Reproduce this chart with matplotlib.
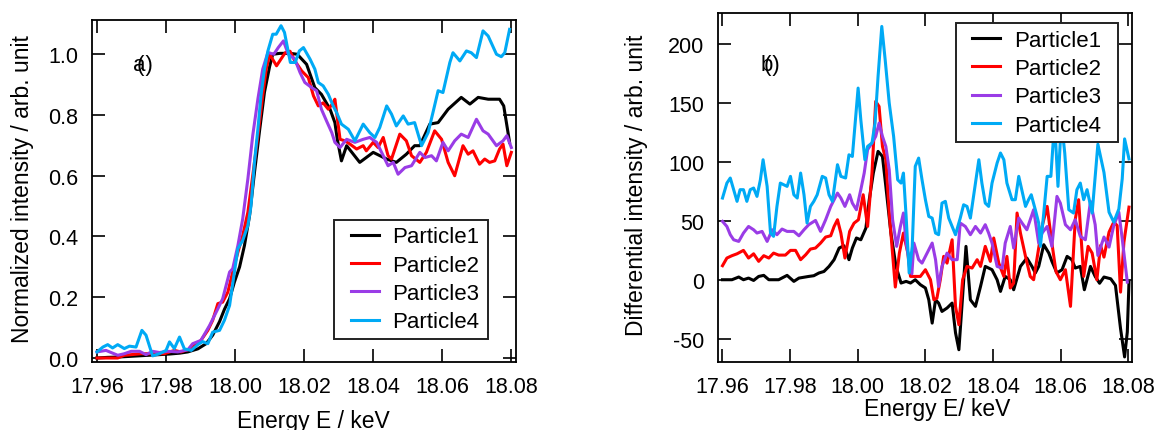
import matplotlib
matplotlib.use("Agg")
import matplotlib.pyplot as plt
from matplotlib.patches import Rectangle
from matplotlib.transforms import offset_copy

plt.rcParams['font.family'] = ['Liberation Sans', 'DejaVu Sans']
plt.rcParams['axes.unicode_minus'] = False

# ---------------- data: panel a) normalized XANES ----------------
a_e1 = [17.9600, 17.9630, 17.9660, 17.9690, 17.9720, 17.9750, 17.9780, 17.9810, 17.9840,
        17.9863, 17.9892, 17.9916, 17.9935, 17.9955, 17.9969, 17.9984, 17.9998, 18.0013,
        18.0027, 18.0042, 18.0056, 18.0071, 18.0085, 18.0100, 18.0109, 18.0130, 18.0160,
        18.0180, 18.0207, 18.0231, 18.0250, 18.0275, 18.0289, 18.0296, 18.0308, 18.0323,
        18.0361, 18.0400, 18.0439, 18.0467, 18.0496, 18.0520, 18.0535, 18.0564, 18.0588,
        18.0617, 18.0655, 18.0680, 18.0704, 18.0733, 18.0766, 18.0778, 18.0795]
a_p1 = [0.000, 0.002, 0.003, 0.005, 0.007, 0.009, 0.011, 0.013, 0.016,
        0.020, 0.030, 0.047, 0.075, 0.120, 0.160, 0.195, 0.250, 0.300,
        0.370, 0.470, 0.610, 0.750, 0.875, 0.960, 1.000, 1.003, 1.003,
        1.000, 0.967, 0.890, 0.868, 0.819, 0.775, 0.720, 0.649, 0.699,
        0.644, 0.677, 0.655, 0.644, 0.671, 0.699, 0.699, 0.770, 0.775,
        0.819, 0.858, 0.836, 0.858, 0.852, 0.852, 0.830, 0.710]

a_e2 = [17.9600, 17.9660, 17.9679, 17.9728, 17.9795, 17.9824, 17.9843, 17.9872, 17.9901,
        17.9921, 17.9935, 17.9950, 17.9964, 17.9979, 17.9993, 18.0008, 18.0022, 18.0037,
        18.0051, 18.0066, 18.0080, 18.0090, 18.0100, 18.0120, 18.0145, 18.0159, 18.0173,
        18.0193, 18.0212, 18.0227, 18.0241, 18.0255, 18.0270, 18.0284, 18.0289, 18.0304,
        18.0318, 18.0333, 18.0352, 18.0371, 18.0380, 18.0400, 18.0414, 18.0429, 18.0443,
        18.0453, 18.0477, 18.0496, 18.0511, 18.0535, 18.0554, 18.0578, 18.0598, 18.0617,
        18.0636, 18.0660, 18.0675, 18.0689, 18.0708, 18.0723, 18.0737, 18.0752, 18.0766,
        18.0776, 18.0787, 18.0800]
a_p2 = [0.000, 0.000, 0.009, 0.014, 0.014, 0.025, 0.020, 0.031, 0.058,
        0.091, 0.124, 0.179, 0.184, 0.217, 0.283, 0.348, 0.403, 0.480,
        0.600, 0.732, 0.864, 0.951, 1.000, 0.962, 1.005, 1.010, 0.978,
        0.945, 0.923, 0.863, 0.830, 0.840, 0.819, 0.840, 0.852, 0.720,
        0.715, 0.704, 0.688, 0.699, 0.682, 0.710, 0.693, 0.726, 0.666,
        0.655, 0.737, 0.715, 0.666, 0.644, 0.677, 0.748, 0.720, 0.644,
        0.600, 0.699, 0.671, 0.682, 0.638, 0.655, 0.644, 0.649, 0.688,
        0.704, 0.633, 0.677]

a_e3 = [17.9600, 17.9626, 17.9660, 17.9679, 17.9699, 17.9723, 17.9742, 17.9761, 17.9781,
        17.9805, 17.9834, 17.9863, 17.9877, 17.9901, 17.9926, 17.9950, 17.9964, 17.9984,
        17.9993, 18.0008, 18.0022, 18.0037, 18.0051, 18.0066, 18.0080, 18.0095, 18.0112,
        18.0125, 18.0140, 18.0154, 18.0173, 18.0188, 18.0202, 18.0222, 18.0236, 18.0250,
        18.0265, 18.0280, 18.0289, 18.0304, 18.0323, 18.0347, 18.0371, 18.0390, 18.0410,
        18.0429, 18.0443, 18.0458, 18.0472, 18.0492, 18.0511, 18.0535, 18.0550, 18.0569,
        18.0583, 18.0602, 18.0617, 18.0636, 18.0655, 18.0675, 18.0699, 18.0718, 18.0733,
        18.0757, 18.0776, 18.0787, 18.0800]
a_p3 = [0.020, 0.025, 0.009, 0.014, 0.022, 0.022, 0.011, 0.022, 0.018,
        0.022, 0.020, 0.027, 0.047, 0.058, 0.107, 0.162, 0.195, 0.283,
        0.294, 0.370, 0.458, 0.590, 0.732, 0.853, 0.951, 1.006, 1.000,
        1.022, 1.044, 1.000, 0.984, 0.940, 0.907, 0.890, 0.880, 0.819,
        0.780, 0.742, 0.710, 0.693, 0.720, 0.710, 0.720, 0.726, 0.710,
        0.666, 0.633, 0.644, 0.605, 0.627, 0.633, 0.677, 0.660, 0.666,
        0.649, 0.710, 0.682, 0.715, 0.737, 0.726, 0.786, 0.748, 0.737,
        0.699, 0.715, 0.732, 0.693]

a_e4 = [17.9600, 17.9617, 17.9631, 17.9645, 17.9660, 17.9679, 17.9694, 17.9713, 17.9730,
        17.9742, 17.9761, 17.9781, 17.9800, 17.9810, 17.9824, 17.9839, 17.9853, 17.9873,
        17.9892, 17.9906, 17.9921, 17.9935, 17.9955, 17.9969, 17.9984, 17.9998, 18.0008,
        18.0022, 18.0037, 18.0046, 18.0056, 18.0066, 18.0075, 18.0085, 18.0095, 18.0109,
        18.0119, 18.0133, 18.0143, 18.0160, 18.0174, 18.0186, 18.0198, 18.0217, 18.0231,
        18.0241, 18.0255, 18.0270, 18.0284, 18.0294, 18.0308, 18.0328, 18.0347, 18.0371,
        18.0390, 18.0405, 18.0419, 18.0439, 18.0453, 18.0467, 18.0487, 18.0501, 18.0520,
        18.0540, 18.0559, 18.0573, 18.0588, 18.0602, 18.0622, 18.0631, 18.0651, 18.0670,
        18.0684, 18.0699, 18.0718, 18.0733, 18.0757, 18.0771, 18.0781, 18.0795]
a_p4 = [0.020, 0.036, 0.044, 0.033, 0.044, 0.031, 0.039, 0.036, 0.091,
        0.075, 0.007, 0.014, 0.025, 0.053, 0.031, 0.069, 0.030, 0.025,
        0.044, 0.054, 0.047, 0.085, 0.091, 0.124, 0.173, 0.283, 0.360,
        0.387, 0.436, 0.500, 0.644, 0.754, 0.864, 0.951, 1.011, 1.066,
        1.066, 1.094, 1.072, 0.973, 0.973, 1.011, 1.022, 0.984, 0.951,
        0.907, 0.896, 0.868, 0.830, 0.808, 0.770, 0.753, 0.715, 0.770,
        0.742, 0.726, 0.759, 0.830, 0.803, 0.764, 0.797, 0.770, 0.775,
        0.699, 0.742, 0.808, 0.880, 0.874, 0.973, 1.005, 0.978, 1.011,
        1.005, 0.989, 1.077, 1.060, 1.000, 0.992, 1.005, 1.082]

# ---------------- data: panel b) differential spectra ----------------
b_e1 = [17.9600, 17.9628, 17.9648, 17.9662, 17.9677, 17.9692, 17.9707, 17.9722, 17.9737,
        17.9766, 17.9791, 17.9811, 17.9826, 17.9855, 17.9870, 17.9885, 17.9900, 17.9915,
        17.9930, 17.9945, 17.9959, 17.9974, 17.9984, 17.9996, 18.0009, 18.0024, 18.0034,
        18.0046, 18.0060, 18.0073, 18.0083, 18.0098, 18.0113, 18.0128, 18.0143, 18.0156,
        18.0170, 18.0185, 18.0200, 18.0210, 18.0220, 18.0230, 18.0239, 18.0249, 18.0264,
        18.0279, 18.0289, 18.0299, 18.0310, 18.0320, 18.0333, 18.0348, 18.0363, 18.0377,
        18.0397, 18.0412, 18.0422, 18.0436, 18.0451, 18.0461, 18.0481, 18.0500, 18.0515,
        18.0525, 18.0535, 18.0550, 18.0565, 18.0574, 18.0589, 18.0604, 18.0619, 18.0633,
        18.0643, 18.0658, 18.0670, 18.0688, 18.0702, 18.0715, 18.0728, 18.0748, 18.0762,
        18.0777, 18.0789, 18.0797, 18.0802]
b_p1 = [0.0, 0.0, 2.3, 0.0, 1.4, -0.6, 2.8, 3.7, 0.0,
        0.0, 3.7, -1.4, 1.4, 2.8, 3.4, 5.7, 7.0, 11.3,
        17.0, 26.9, 28.8, 17.0, 26.9, 35.4, 33.9, 43.8, 67.9,
        90.5, 108.9, 104.6, 79.2, 39.6, 11.3, -2.8, -1.4, -2.8,
        0.0, -4.2, -7.0, -17.0, -36.8, -17.0, -19.8, -26.9, -24.0,
        -19.8, -45.0, -59.4, -14.0, 28.3, -17.0, -22.6, -5.7, 11.3,
        8.5, 0.0, -9.9, 2.8, 0.0, -8.5, 11.3, 18.4, 11.3,
        5.7, 11.3, 29.7, 22.6, 15.6, 5.7, 8.5, 19.8, 17.0,
        9.9, 11.3, -8.5, 11.3, 2.8, -3.0, 2.3, 0.8, -4.8,
        -41.5, -65.5, -44.4, -2.0]

b_e2 = [17.9600, 17.9613, 17.9628, 17.9643, 17.9662, 17.9677, 17.9692, 17.9707, 17.9722,
        17.9737, 17.9751, 17.9766, 17.9786, 17.9801, 17.9816, 17.9831, 17.9846, 17.9860,
        17.9875, 17.9890, 17.9905, 17.9920, 17.9930, 17.9940, 17.9950, 17.9962, 17.9976,
        17.9989, 18.0002, 18.0016, 18.0029, 18.0042, 18.0053, 18.0063, 18.0073, 18.0083,
        18.0093, 18.0111, 18.0123, 18.0135, 18.0148,
        18.0156, 18.0170, 18.0185, 18.0200, 18.0215, 18.0225, 18.0234, 18.0244, 18.0254,
        18.0264, 18.0279, 18.0289, 18.0299, 18.0310, 18.0323, 18.0338, 18.0353, 18.0363,
        18.0377, 18.0392, 18.0402, 18.0417, 18.0432, 18.0441, 18.0451, 18.0461, 18.0471,
        18.0481, 18.0496, 18.0510, 18.0520, 18.0535, 18.0545, 18.0560, 18.0574, 18.0586,
        18.0599, 18.0614, 18.0629, 18.0643, 18.0653, 18.0668, 18.0681, 18.0693, 18.0707,
        18.0718, 18.0728, 18.0743, 18.0757, 18.0767, 18.0777, 18.0787, 18.0802]
b_p2 = [11.9, 18.4, 20.4, 22.0, 24.9, 18.4, 22.0, 15.6, 20.4,
        18.4, 22.6, 20.9, 20.9, 24.9, 24.9, 17.0, 21.2, 26.0,
        26.9, 31.1, 36.2, 37.3, 45.2, 50.9, 39.6, 18.4, 41.0,
        48.0, 50.9, 72.1, 45.2, 90.5, 151.3, 147.0, 113.0, 101.8,
        56.6, -6.2, 22.6, 39.6, 22.6,
        2.8, 2.8, 2.8, 8.5, 0.0, -17.0, -15.6, 0.0, 19.8,
        14.1, 33.9, -22.6, -38.2, 0.0, 11.3, 9.9, 17.0, 11.3,
        28.3, 15.6, 35.4, 14.1, 2.8, 19.8, -7.0, -2.8, 56.6,
        39.6, 19.8, 2.8, 0.0, 26.9, 45.2, 62.2, 31.1, 7.0,
        0.0, 8.5, -22.6, 50.9, 67.9, 2.8, 28.3, 22.6, 0.0,
        29.1, 19.2, 40.4, 48.9, 46.0, -10.5, 31.9, 61.6]

b_e3 = [17.9600, 17.9613, 17.9623, 17.9633, 17.9648, 17.9662, 17.9677, 17.9692, 17.9702,
        17.9717, 17.9732, 17.9747, 17.9761, 17.9776, 17.9791, 17.9811, 17.9826, 17.9841,
        17.9855, 17.9875, 17.9890, 17.9905, 17.9920, 17.9940, 17.9950, 17.9962, 17.9976,
        17.9984, 17.9996, 18.0009, 18.0019, 18.0029, 18.0042, 18.0053, 18.0063, 18.0073,
        18.0083, 18.0093, 18.0103, 18.0115, 18.0126, 18.0135, 18.0143, 18.0153, 18.0160,
        18.0166, 18.0180, 18.0190, 18.0205, 18.0220, 18.0230, 18.0239, 18.0249, 18.0264,
        18.0279, 18.0294, 18.0303, 18.0318, 18.0333, 18.0348, 18.0363, 18.0377, 18.0387,
        18.0397, 18.0412, 18.0427, 18.0436, 18.0451, 18.0461, 18.0476, 18.0486, 18.0500,
        18.0520, 18.0535, 18.0545, 18.0560, 18.0574, 18.0589, 18.0599, 18.0614, 18.0629,
        18.0643, 18.0658, 18.0673, 18.0688, 18.0702, 18.0710, 18.0728, 18.0743, 18.0757,
        18.0772, 18.0782, 18.0797]
b_p3 = [49.5, 45.2, 38.2, 33.9, 32.5, 39.6, 45.2, 42.4, 39.6,
        41.0, 32.5, 42.4, 38.2, 43.0, 41.0, 41.0, 37.3, 42.4,
        46.7, 50.3, 41.0, 50.9, 62.2, 73.5, 69.3, 62.2, 72.1,
        65.0, 59.4, 76.4, 90.5, 110.3, 116.0, 121.6, 132.9, 121.6,
        113.1, 93.3, 50.9, 28.3, 45.2, 56.6, 31.1, 15.0, 5.0,
        31.1, 17.0, 14.1, 22.6, 31.1, 17.0, -5.7, 11.3, 22.6,
        17.0, 17.0, 48.1, 45.2, 38.2, 45.2, 39.6, 46.7, 39.6,
        31.1, 11.3, 9.9, 31.1, 45.2, 26.9, 52.3, 48.0, 42.4,
        59.4, 31.1, 39.6, 45.2, 28.3, 70.7, 65.0, 46.7, 42.4,
        50.9, 36.8, 33.9, 66.5, 46.7, 20.6, 36.2, 27.7, 46.0,
        57.3, 34.7, -2.0]

b_e4 = [17.9600, 17.9613, 17.9623, 17.9633, 17.9643, 17.9652, 17.9662, 17.9672, 17.9682,
        17.9692, 17.9702, 17.9712, 17.9720, 17.9732, 17.9742, 17.9751, 17.9761, 17.9771,
        17.9781, 17.9791, 17.9801, 17.9811, 17.9821, 17.9831, 17.9841, 17.9850, 17.9860,
        17.9870, 17.9880, 17.9895, 17.9905, 17.9915, 17.9925, 17.9940, 17.9950, 17.9964,
        17.9974, 17.9984, 18.0001, 18.0009, 18.0021, 18.0029, 18.0042, 18.0051, 18.0060,
        18.0071, 18.0081, 18.0093, 18.0106, 18.0118, 18.0128, 18.0135, 18.0143, 18.0152,
        18.0161, 18.0170, 18.0180, 18.0190, 18.0200, 18.0210, 18.0220, 18.0230, 18.0239,
        18.0249, 18.0259, 18.0269, 18.0279, 18.0289, 18.0303, 18.0313, 18.0323, 18.0333,
        18.0348, 18.0358, 18.0367, 18.0377, 18.0387, 18.0397, 18.0412, 18.0422, 18.0432,
        18.0441, 18.0456, 18.0466, 18.0476, 18.0486, 18.0496, 18.0505, 18.0513, 18.0525,
        18.0535, 18.0540, 18.0550, 18.0560, 18.0571, 18.0582, 18.0592, 18.0602, 18.0612,
        18.0624, 18.0638, 18.0648, 18.0658, 18.0668, 18.0678, 18.0693, 18.0710, 18.0728,
        18.0743, 18.0757, 18.0772, 18.0782, 18.0789, 18.0802]
b_p4 = [69.3, 82.0, 86.3, 76.4, 66.5, 76.4, 76.4, 66.5, 76.4,
        77.8, 70.7, 84.8, 101.8, 79.2, 39.6, 36.8, 62.2, 82.0,
        80.6, 79.2, 87.7, 72.1, 69.3, 90.5, 72.1, 48.1, 62.2,
        66.5, 72.1, 87.7, 86.3, 72.1, 66.5, 97.6, 87.7, 86.3,
        106.0, 104.6, 162.6, 135.7, 101.8, 113.1, 116.0, 132.9, 172.5,
        214.9, 186.7, 149.9, 121.6, 84.8, 82.0, 90.5, 53.7, 5.7,
        28.3, 96.2, 103.2, 84.8, 67.9, 53.7, 52.3, 39.6, 38.2,
        65.0, 66.5, 52.3, 45.2, 38.2, 52.3, 63.6, 62.2, 52.3,
        82.0, 101.8, 82.0, 65.0, 62.2, 82.0, 99.0, 107.5, 101.8,
        82.0, 67.9, 67.9, 87.7, 75.0, 62.2, 67.9, 72.1, 59.4,
        48.1, 28.3, 56.6, 87.7, 87.7, 135.0, 79.2, 135.0, 107.5,
        59.4, 56.6, 76.4, 82.0, 67.9, 76.4, 56.6, 115.0, 91.0,
        57.3, 48.9, 60.0, 85.6, 119.5, 102.5]

labels = ["Particle1", "Particle2", "Particle3", "Particle4"]
colors = ["#000000", "#ff0000", "#9a3ce6", "#00aaf5"]
x_ticks = [17.96, 17.98, 18.00, 18.02, 18.04, 18.06, 18.08]
a_yticks = [0.0, 0.2, 0.4, 0.6, 0.8, 1.0]
b_yticks = [-50, 0, 50, 100, 150, 200]

fig = plt.figure(figsize=(11.64, 4.31), dpi=100)
axa = fig.add_axes([92 / 1164, 68 / 431, 423.7 / 1164, 342 / 431])
axb = fig.add_axes([718 / 1164, 68 / 431, 413.7 / 1164, 349 / 431])

LW = 2.2
for e, v, c, lab in zip([a_e1, a_e2, a_e3, a_e4], [a_p1, a_p2, a_p3, a_p4], colors, labels):
    axa.plot(e, v, color=c, lw=LW, label=lab, solid_joinstyle='round')
for e, v, c, lab in zip([b_e1, b_e2, b_e3, b_e4], [b_p1, b_p2, b_p3, b_p4], colors, labels):
    axb.plot(e, v, color=c, lw=LW, label=lab, solid_joinstyle='round')

axa.set_xlim(17.95855, 18.08127)
axa.set_ylim(-0.0132, 1.1128)
axb.set_xlim(17.95867, 18.0810)
axb.set_ylim(-69.8, 226.3)

axa.set_xticks(x_ticks)
axa.set_xticklabels([f"{t:.2f}" for t in x_ticks])
axa.set_yticks(a_yticks)
axa.set_yticklabels([f"{t:.1f}" for t in a_yticks])
axb.set_xticks(x_ticks)
axb.set_xticklabels([f"{t:.2f}" for t in x_ticks])
axb.set_yticks(b_yticks)
axb.set_yticklabels([str(t) for t in b_yticks])

for ax in (axa, axb):
    ax.tick_params(direction='in', length=9.5, width=1.2, top=True, right=True,
                   labelsize=15.5, pad=10, colors='black')
    for s in ax.spines.values():
        s.set_linewidth(1.3)

LABFS = 16.5
axa.set_xlabel("Energy E / keV", fontsize=LABFS)
axa.xaxis.set_label_coords(0.5216, -0.137)
axa.set_ylabel("Normalized intensity / arb. unit", fontsize=LABFS)
axa.yaxis.set_label_coords(-0.137, 0.51)
axb.set_xlabel("Energy E/ keV", fontsize=LABFS)
axb.xaxis.set_label_coords(0.529, -0.100)
axb.set_ylabel("Differential intensity / arb. unit", fontsize=LABFS)
axb.yaxis.set_label_coords(-0.170, 0.51)

# panel tags (the "(" glyph overlaps the letter in the original)
for ax, x, y, t in ((axa, 17.97052, 0.947, "a)"), (axb, 17.97114, 177.9, "b)")):
    ax.text(x, y, t, fontsize=16, ha='left', va='baseline')
    ax.text(x, y, "(", fontsize=16, ha='left', va='baseline',
            transform=offset_copy(ax.transData, fig=fig, x=3, y=0, units='dots'))

# legends: frameless legend + separate frame rectangle
def add_legend(ax, cx, cy, x0, y0, x1, y1):
    ax.add_patch(Rectangle((x0, y0), x1 - x0, y1 - y0, transform=ax.transAxes,
                           facecolor='white', edgecolor='#222222', lw=1.4, zorder=4))
    leg = ax.legend(loc='center', bbox_to_anchor=(cx, cy), frameon=False, fontsize=16,
                    handlelength=1.26, handletextpad=0.62, labelspacing=0.33,
                    borderpad=0.2, borderaxespad=0)
    leg.set_zorder(5)
    for ln in leg.get_lines():
        ln.set_linewidth(LW)

add_legend(axa, 0.7628, 0.2415, 0.5712, 0.0673, 0.9346, 0.4161)
add_legend(axb, 0.7704, 0.8003, 0.5746, 0.6295, 0.9676, 0.9713)

fig.savefig("out.png", dpi=100)
